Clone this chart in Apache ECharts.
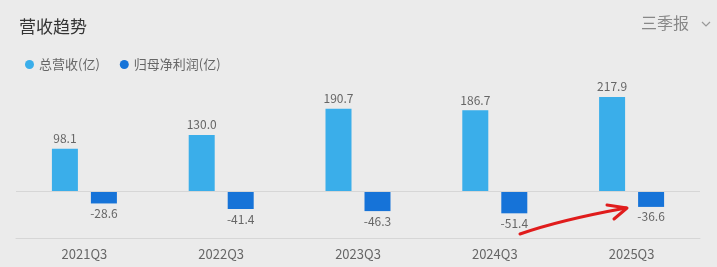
<!DOCTYPE html>
<html><head><meta charset="utf-8">
<script src="https://cdn.jsdelivr.net/npm/echarts@6/dist/echarts.min.js"></script>
<style>html,body{margin:0;padding:0;background:#ebebeb;}#c{width:717px;height:267px;}</style>
</head><body><div id="c"></div>
<script>
var categories = ['2021Q3','2022Q3','2023Q3','2024Q3','2025Q3'];
var revenue = [98.1, 130.0, 190.7, 186.7, 217.9];
var netProfit = [-28.6, -41.4, -46.3, -51.4, -36.6];
var seriesNames = ['总营收(亿)', '归母净利润(亿)'];

var chart = echarts.init(document.getElementById('c'), null, {renderer:'canvas'});
var font = '"Noto Sans CJK SC", "Microsoft YaHei", sans-serif';
chart.setOption({
  backgroundColor: '#ebebeb',
  animation: false,
  textStyle: {fontFamily: font},
  title: {text: '营收趋势', left: 14, top: 13, textStyle: {fontSize: 17, fontWeight: 'normal', color: '#333', fontFamily: font}},
  legend: {
    left: 20, top: 53, itemWidth: 9, itemHeight: 9, itemGap: 20, icon: 'circle',
    textStyle: {fontSize: 13, color: '#666', fontFamily: font},
    data: seriesNames
  },
  grid: {left: 16, right: 17, top: 83, bottom: 29, containLabel: false},
  xAxis: {
    type: 'category', data: categories,
    axisLine: {onZero: false, lineStyle: {color: '#d6d6d6'}},
    axisTick: {show: false},
    axisLabel: {fontSize: 13, color: '#666', margin: 10, fontFamily: font}
  },
  yAxis: {type: 'value', min: -108.5, max: 250, show: false, splitLine: {show: false}},
  graphic: [
    {type: 'text', right: 28, top: 15, style: {text: '三季报', fontSize: 16, fill: '#888', fontFamily: font}},
    {type: 'polyline', shape: {points: [[702,22],[706,26],[710,22]]}, style: {stroke: '#999', lineWidth: 1.2, fill: null}},
    {type: 'bezierCurve', shape: {x1: 520, y1: 234, cpx1: 560, cpy1: 220, x2: 626, y2: 208}, style: {stroke: '#e01c1c', lineWidth: 3, fill: null, lineCap: 'round'}},
    {type: 'polyline', shape: {points: [[607,205],[627,208],[614,219]]}, style: {stroke: '#e01c1c', lineWidth: 3, fill: null, lineCap: 'round', lineJoin: 'round'}}
  ],
  series: [
    {
      name: seriesNames[0], type: 'bar', data: revenue, barWidth: 26, barGap: '50%',
      itemStyle: {color: '#3aaeea'},
      label: {show: true, position: 'top', distance: 4, fontSize: 12, color: '#666', fontFamily: font, formatter: function(p){return p.value.toFixed(1);}},
      markLine: {silent: true, symbol: 'none', label: {show: false}, lineStyle: {color: '#d6d6d6', type: 'solid', width: 1}, data: [{yAxis: 0}]}
    },
    {
      name: seriesNames[1], type: 'bar', data: netProfit, barWidth: 26,
      itemStyle: {color: '#1673d8'},
      label: {show: true, position: 'bottom', distance: 4, fontSize: 12, color: '#666', fontFamily: font, formatter: function(p){return p.value.toFixed(1);}}
    }
  ]
});
</script></body></html>
